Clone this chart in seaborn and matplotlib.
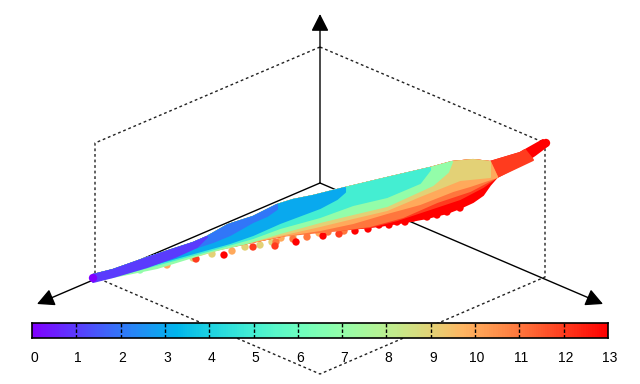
import numpy as np
import pandas as pd
import seaborn as sns
import matplotlib.pyplot as plt

sns.set_theme(style='white')
plt.rcParams['font.family'] = ['Liberation Sans', 'DejaVu Sans']

# projected wireframe of the box
hex_x = [320, 545, 545, 320, 95, 95, 320]
hex_y = [47, 143, 277, 374, 277, 143, 47]
origin = (320, 183)
axis_tips = [(320, 14), (37, 304), (603, 304)]

# upper edge of the cloud
top_x = [93, 113, 147, 193, 207, 228, 253, 277, 293, 313, 345, 387, 430, 452, 473, 490, 520, 543, 548]
top_y = [275, 270, 258, 243, 237, 225, 217, 205, 200, 196, 188, 178, 168, 162, 160, 162, 153, 140, 143]

# lower boundary of each colour band (left to right)
red_x = [300, 360, 379, 405, 427, 447, 460, 473, 483, 490, 497, 520, 535, 547]
red_y = [232, 228, 226, 222, 218, 213, 208, 202, 195, 185, 177, 165, 155, 146]
orange_red_x = [300, 340, 370, 397, 430, 460, 483, 497, 533, 525]
orange_red_y = [232, 230, 227, 220, 209, 199, 187, 177, 160, 150]
orange_x = [280, 340, 370, 403, 437, 470, 497]
orange_y = [236, 230, 226, 217, 202, 191, 177]
light_orange_x = [230, 280, 320, 353, 387, 420, 453, 470, 497]
light_orange_y = [247, 236, 230, 223, 213, 204, 191, 186, 177]
khaki_x = [200, 230, 280, 320, 353, 387, 420, 460, 490]
khaki_y = [255, 246, 235, 226, 218, 210, 196, 180, 177]
green_x = [93, 157, 212, 247, 280, 320, 353, 387, 433, 448, 452]
green_y = [281, 268, 251, 243, 233, 222, 214, 206, 185, 172, 162]
turquoise_x = [93, 130, 200, 253, 280, 320, 353, 387, 420, 430]
turquoise_y = [281, 272, 253, 238, 228, 217, 205, 197, 183, 170]
sky_x = [93, 230, 253, 280, 320, 337, 345]
sky_y = [281, 243, 235, 223, 208, 199, 192]
blue_x = [93, 213, 230, 253, 267, 277]
blue_y = [281, 242, 235, 222, 216, 209]
violet_x = [93, 113, 147, 175, 197, 207]
violet_y = [282, 277, 267, 257, 247, 237]

band_levels = [13, 12, 11, 10, 9, 7, 5, 3, 2, 1]
band_x = [red_x, orange_red_x, orange_x, light_orange_x, khaki_x, green_x, turquoise_x, sky_x, blue_x, violet_x]
band_y = [red_y, orange_red_y, orange_y, light_orange_y, khaki_y, green_y, turquoise_y, sky_y, blue_y, violet_y]

# single points poking out under the cloud
dot_x = [140, 167, 193, 212, 232, 245, 260, 272, 281, 293, 307, 319,
         276, 293, 307, 328, 344, 196, 224, 253, 275, 296, 323, 339, 355, 368, 379, 389, 397, 405,
         413, 427, 437, 447, 460]
dot_y = [270, 265, 258, 254, 251, 247, 245, 242, 238, 236, 233, 233,
         242, 239, 237, 232, 231, 259, 255, 247, 246, 242, 236, 234, 231, 229, 225, 225, 222, 222,
         218, 217, 215, 212, 208]
dot_level = [7, 10, 9, 9, 10, 9, 9, 9, 10, 9, 10, 10,
             11, 11, 11, 11, 11, 12, 13, 12, 12, 13, 13, 12, 13, 13, 13, 13, 13, 13,
             13, 13, 13, 13, 13]

start_x = [93, 546]
start_y = [278, 143]
start_level = [0, 13]

cbar_ticks = list(range(14))

cmap = plt.get_cmap('rainbow')

fig = plt.figure(figsize=(6.4, 3.84), dpi=100)
ax = fig.add_axes([0, 0, 1, 1])
ax.set_xlim(0, 640)
ax.set_ylim(384, 0)
ax.axis('off')

ax.plot(hex_x, hex_y, color='#222222', lw=1, dashes=(2, 2), zorder=1)
for tip in axis_tips:
    ax.annotate('', xy=tip, xytext=origin, zorder=2,
                arrowprops=dict(arrowstyle='-|>,head_length=0.75,head_width=0.38', color='black',
                                lw=1, shrinkA=0, shrinkB=0, mutation_scale=14))

dots = pd.DataFrame({'x': dot_x, 'y': dot_y, 'level': dot_level}).sort_values('level')
sns.scatterplot(data=dots, x='x', y='y', hue='level', palette='rainbow', hue_norm=(0, 13),
                s=28, linewidth=0, legend=False, ax=ax, zorder=3)

# bands painted red first, each one covering from its lower boundary up to the top edge
for i, level in enumerate(band_levels):
    c = cmap(level / 13)
    xs, ys = band_x[i], band_y[i]
    end = max(xs) if level != 12 else 525
    tx = [x for x in top_x if x <= end]
    ty = [y for x, y in zip(top_x, top_y) if x <= end]
    ax.fill(tx + xs[::-1], ty + ys[::-1], color=c, lw=1.5, joinstyle='round', zorder=4 + i * 0.1)

ax.scatter(start_x, start_y, c=start_level, cmap='rainbow', vmin=0, vmax=13, s=36, linewidth=0, zorder=6)
ax.set_xlabel('')
ax.set_ylabel('')

# colour bar
cax = fig.add_axes([32 / 640, 1 - 338 / 384, 576 / 640, 15 / 384])
sns.heatmap(np.linspace(0, 13, 256).reshape(1, -1), cmap='rainbow', vmin=0, vmax=13, cbar=False,
            xticklabels=False, yticklabels=False, ax=cax)
cax.set_xlim(0, 256)
for sp in cax.spines.values():
    sp.set_visible(True)
    sp.set_color('black')
    sp.set_linewidth(1.2)
for t in cbar_ticks[1:-1]:
    cax.axvline(t * 256 / 13, color='black', lw=1, dashes=(2.5, 1.5))
for t in cbar_ticks:
    cax.annotate(str(t), xy=(t * 256 / 13, 0), xycoords=('data', 'axes fraction'), xytext=(1.4, -9),
                 textcoords='offset points', ha='center', va='top', fontsize=10, color='black')

fig.savefig('out.png', dpi=100)
